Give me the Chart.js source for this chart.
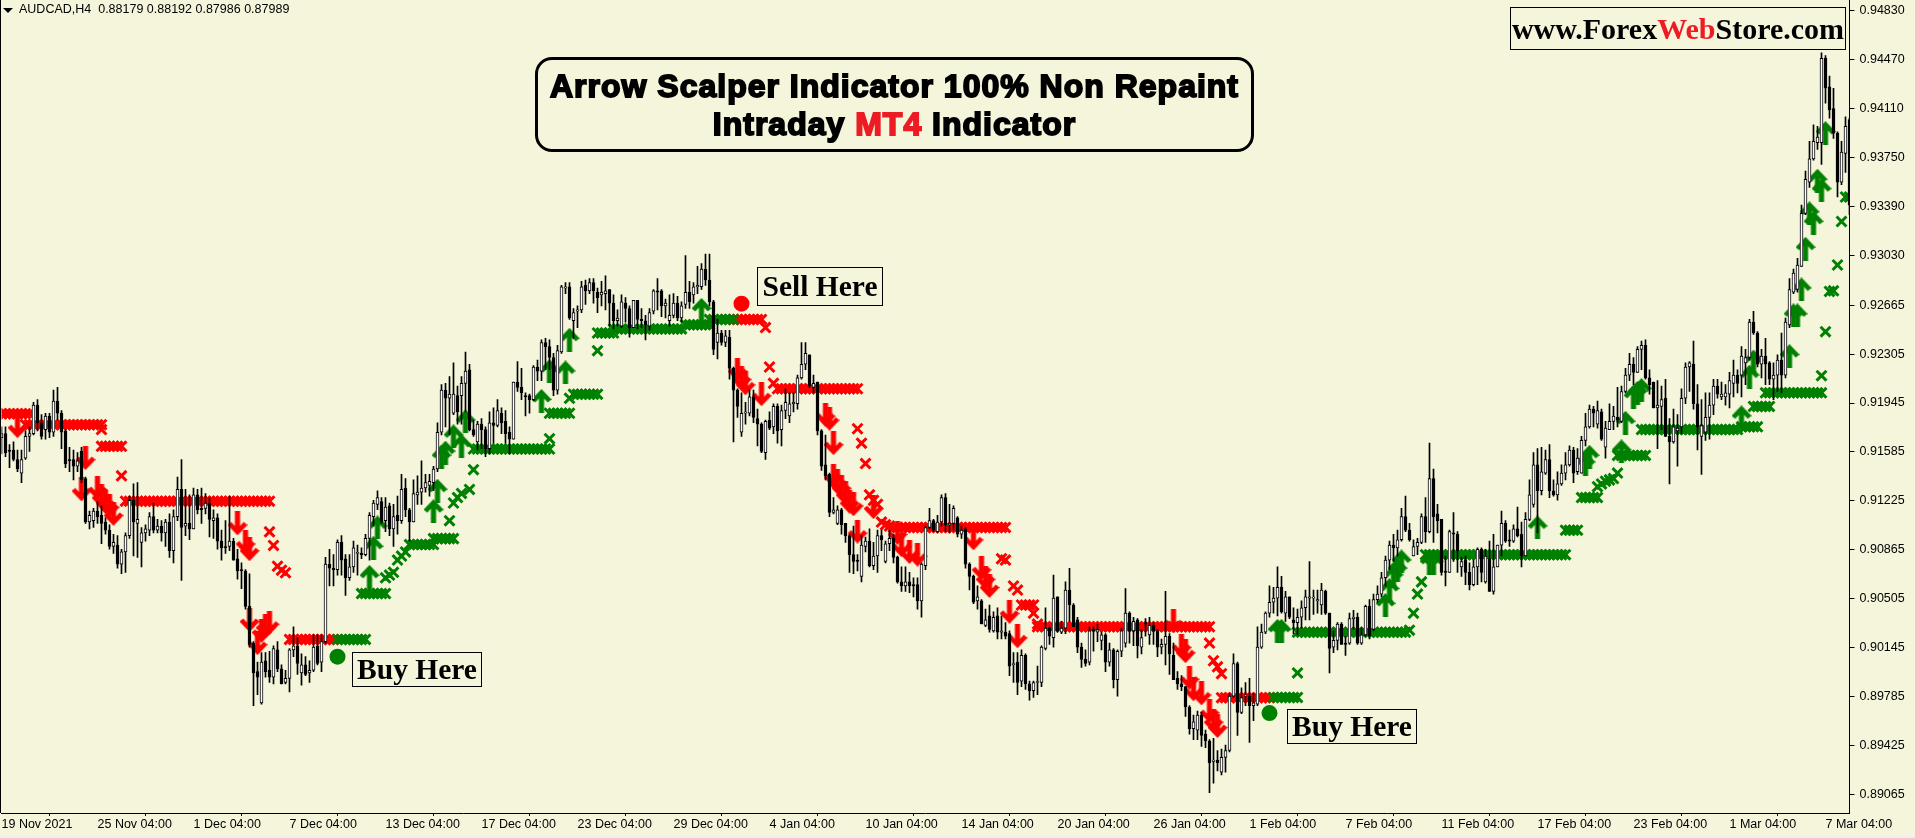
<!DOCTYPE html>
<html>
<head>
<meta charset="utf-8">
<title>AUDCAD,H4</title>
<script src="https://cdn.jsdelivr.net/npm/chart.js@4/dist/chart.umd.min.js"></script>
<style>
html, body { margin: 0; padding: 0; background: #F5F5DC; overflow: hidden; }
#wrap { position: relative; width: 1915px; height: 838px; background: #F5F5DC; }
#chart { position: absolute; left: 0; top: 0; }
#leftLine { position: absolute; left: 0; top: 0; width: 1px; height: 813px; background: #000; }
#bottomStrip { position: absolute; left: 0; top: 836px; width: 1915px; height: 2px; background: #f0f0f0; }
#arrowMark { position: absolute; left: 3px; top: 8px; width: 10px; height: 5px; background: #000; clip-path: polygon(0 0, 100% 0, 50% 100%); }
#header { position: absolute; left: 19px; top: 2px; font: 12.5px "Liberation Sans"; color: #000; white-space: pre; }
#title { position: absolute; left: 535px; top: 57px; width: 713px; height: 82px; border: 3px solid #000; border-radius: 17px;
  font: bold 32px/38px "Liberation Sans"; color: #000; text-align: center; -webkit-text-stroke: 1.8px #000; letter-spacing: 1px; padding-top: 7px; box-sizing: content-box; }
#title span { color: #ED1C24; -webkit-text-stroke: 1.8px #ED1C24; }
.box { position: absolute; border: 1px solid #000; box-sizing: border-box; font: bold 29.5px "Liberation Serif"; color: #000; text-align: center; white-space: nowrap; }
.box span { color: #ED1C24; }
</style>
</head>
<body>
<div id="wrap">
  <canvas id="chart" width="1915" height="838"></canvas>
  <div id="leftLine"></div>
  <div id="bottomStrip"></div>
  <div id="arrowMark"></div>
  <div id="header">AUDCAD,H4  0.88179 0.88192 0.87986 0.87989</div>
  <div id="title">Arrow Scalper Indicator 100% Non Repaint<br>Intraday <span>MT4</span> Indicator</div>
  <div class="box" style="left:1510px;top:7px;width:336px;height:43px;line-height:41px;font-size:30px;">www.Forex<span>Web</span>Store.com</div>
  <div class="box" style="left:352px;top:652px;width:130px;height:35px;line-height:33px;">Buy Here</div>
  <div class="box" style="left:1287px;top:709px;width:130px;height:35px;line-height:33px;">Buy Here</div>
  <div class="box" style="left:757px;top:267px;width:126px;height:39px;line-height:37px;">Sell Here</div>
</div>
<script>
const xTickBars = [0,24,48,72,96,120,144,168,192,216,240,264,288,312,336,360,384,408,432,456]
const xTickLabels = ['19 Nov 2021','25 Nov 04:00','1 Dec 04:00','7 Dec 04:00','13 Dec 04:00','17 Dec 04:00','23 Dec 04:00','29 Dec 04:00','4 Jan 04:00','10 Jan 04:00','14 Jan 04:00','20 Jan 04:00','26 Jan 04:00','1 Feb 04:00','7 Feb 04:00','11 Feb 04:00','17 Feb 04:00','23 Feb 04:00','1 Mar 04:00','7 Mar 04:00']
const yTicks = [.9483,.9447,.9411,.9375,.9339,.9303,.92665,.92305,.91945,.91585,.91225,.90865,.90505,.90145,.89785,.89425,.89065]

const opens = [
.9169,.9172,.9160,.9160,.9153,.9143,.9154,.9170,.9172,.9193,.9180,.9175,.9185,.9173,.9196,.9187,.9174,.9153,.9153,.9148,
.9159,.9139,.9107,.9108,.9115,.9112,.9107,.9101,.9089,.9090,.9076,.9085,.9097,.9123,.9106,.9092,.9099,.9101,.9111,.9101,
.9104,.9099,.9107,.9086,.9111,.9131,.9104,.9106,.9102,.9127,.9117,.9117,.9121,.9108,.9110,.9093,.9089,.9089,.9093,.9080,
.9072,.9071,.9045,.9018,.8997,.8974,.9005,.8998,.8993,.9013,.8999,.8989,.8992,.9013,.9016,.8996,.9002,.8996,.8998,.9016,
.9004,.9019,.9076,.9073,.9072,.9092,.9080,.9066,.9074,.9084,.9084,.9083,.9095,.9111,.9120,.9122,.9108,.9119,.9102,.9112,
.9108,.9132,.9116,.9107,.9127,.9129,.9132,.9134,.9136,.9146,.9173,.9204,.9198,.9187,.9200,.9200,.9209,.9219,.9175,.9166,
.9179,.9175,.9161,.9180,.9178,.9187,.9181,.9173,.9168,.9210,.9206,.9200,.9200,.9197,.9221,.9218,.9239,.9236,.9228,.9204,
.9232,.9279,.9280,.9255,.9262,.9263,.9281,.9277,.9283,.9276,.9274,.9275,.9278,.9268,.9255,.9251,.9268,.9264,.9250,.9270,
.9256,.9255,.9251,.9262,.9277,.9277,.9266,.9255,.9259,.9268,.9257,.9267,.9276,.9274,.9280,.9280,.9293,.9285,.9269,.9239,
.9246,.9239,.9243,.9220,.9204,.9173,.9187,.9187,.9199,.9183,.9179,.9158,.9182,.9177,.9192,.9175,.9189,.9185,.9194,.9194,
.9213,.9223,.9230,.9206,.9210,.9174,.9149,.9142,.9114,.9106,.9116,.9106,.9097,.9083,.9079,.9067,.9089,.9093,.9075,.9082,
.9097,.9078,.9091,.9095,.9081,.9063,.9060,.9063,.9061,.9061,.9049,.9075,.9103,.9108,.9100,.9107,.9125,.9105,.9106,.9110,
.9098,.9102,.9076,.9067,.9049,.9049,.9031,.9038,.9027,.9038,.9026,.9026,.9025,.9002,.9004,.8990,.9009,.8988,.8983,.8989,
.8989,.9014,.9029,.9022,.9052,.9026,.9029,.9057,.9046,.9035,.9015,.9006,.9004,.9028,.9026,.9020,.9024,.9004,.9013,.8991,
.9012,.9018,.9040,.9027,.9035,.9015,.9033,.9024,.9031,.9027,.9015,.9017,.9023,.9009,.8992,.8988,.8986,.8971,.8955,.8954,
.8965,.8951,.8946,.8931,.8932,.8923,.8934,.8939,.8979,.9003,.8967,.8979,.8979,.8972,.8973,.9015,.9026,.9040,.9048,.9051,
.9059,.9040,.9052,.9035,.9033,.9037,.9044,.9051,.9051,.9049,.9046,.9056,.9040,.9015,.9020,.9032,.9018,.9018,.9036,.9037,
.9018,.9024,.9045,.9028,.9050,.9054,.9066,.9079,.9090,.9088,.9094,.9111,.9101,.9082,.9089,.9092,.9111,.9100,.9139,.9113,
.9109,.9071,.9070,.9099,.9098,.9074,.9079,.9070,.9061,.9074,.9087,.9063,.9080,.9056,.9074,.9090,.9106,.9094,.9093,.9102,
.9098,.9082,.9109,.9120,.9149,.9130,.9143,.9153,.9130,.9127,.9135,.9143,.9149,.9160,.9144,.9143,.9167,.9177,.9190,.9179,
.9188,.9162,.9175,.9181,.9184,.9181,.9203,.9215,.9223,.9217,.9234,.9237,.9213,.9210,.9191,.9192,.9198,.9170,.9166,.9174,
.9177,.9198,.9221,.9223,.9194,.9170,.9173,.9184,.9193,.9207,.9199,.9199,.9201,.9209,.9215,.9215,.9224,.9228,.9254,.9246,
.9223,.9229,.9224,.9212,.9215,.9226,.9215,.9252,.9276,.9278,.9295,.9334,.9357,.9374,.9386,.9386,.9448,.9427,.9411,.9393,
.9357,.9378,.9403]

const highs = [
.9177,.9177,.9164,.9166,.9160,.9160,.9174,.9177,.9195,.9197,.9186,.9187,.9187,.9204,.9206,.9189,.9175,.9162,.9160,.9158,
.9162,.9140,.9115,.9117,.9122,.9119,.9110,.9105,.9098,.9097,.9087,.9099,.9126,.9135,.9136,.9103,.9105,.9114,.9121,.9109,
.9108,.9109,.9113,.9116,.9140,.9153,.9131,.9127,.9132,.9131,.9132,.9128,.9125,.9116,.9113,.9101,.9108,.9126,.9095,.9087,
.9077,.9072,.9069,.9019,.9004,.9011,.9011,.9012,.9016,.9019,.9002,.8998,.9014,.9030,.9022,.9010,.9008,.9005,.9024,.9024,
.9024,.9081,.9087,.9083,.9094,.9097,.9083,.9083,.9093,.9090,.9088,.9098,.9114,.9123,.9130,.9125,.9125,.9121,.9120,.9126,
.9142,.9139,.9117,.9138,.9141,.9152,.9142,.9142,.9148,.9180,.9208,.9209,.9214,.9224,.9207,.9214,.9232,.9223,.9182,.9181,
.9183,.9177,.9188,.9191,.9197,.9191,.9189,.9177,.9210,.9225,.9220,.9202,.9201,.9222,.9226,.9241,.9242,.9241,.9231,.9237,
.9281,.9283,.9283,.9264,.9266,.9284,.9285,.9286,.9286,.9279,.9284,.9288,.9278,.9274,.9263,.9274,.9272,.9266,.9270,.9270,
.9264,.9259,.9264,.9278,.9286,.9278,.9271,.9274,.9275,.9273,.9269,.9303,.9284,.9283,.9295,.9297,.9304,.9304,.9270,.9256,
.9248,.9248,.9248,.9221,.9205,.9202,.9195,.9204,.9204,.9190,.9180,.9182,.9188,.9194,.9194,.9193,.9205,.9202,.9202,.9215,
.9239,.9239,.9230,.9215,.9210,.9175,.9171,.9143,.9125,.9119,.9117,.9106,.9098,.9104,.9083,.9097,.9096,.9102,.9092,.9101,
.9101,.9093,.9101,.9098,.9082,.9074,.9074,.9070,.9066,.9066,.9077,.9104,.9117,.9109,.9112,.9127,.9128,.9120,.9119,.9111,
.9104,.9103,.9077,.9068,.9060,.9050,.9043,.9046,.9041,.9044,.9038,.9033,.9027,.9011,.9011,.9013,.9010,.8990,.8990,.9001,
.9016,.9044,.9030,.9068,.9052,.9034,.9063,.9073,.9047,.9037,.9018,.9013,.9030,.9030,.9032,.9026,.9025,.9018,.9014,.9013,
.9029,.9058,.9041,.9037,.9036,.9028,.9036,.9037,.9033,.9028,.9021,.9056,.9025,.9018,.8997,.8994,.8986,.8972,.8965,.8968,
.8967,.8954,.8947,.8948,.8939,.8940,.8943,.8981,.9010,.9004,.8985,.8989,.8992,.8981,.9030,.9032,.9041,.9060,.9059,.9074,
.9067,.9056,.9052,.9044,.9043,.9049,.9057,.9078,.9057,.9057,.9062,.9057,.9040,.9027,.9033,.9033,.9023,.9040,.9042,.9040,
.9029,.9046,.9050,.9054,.9060,.9070,.9082,.9093,.9098,.9101,.9117,.9126,.9106,.9094,.9095,.9113,.9125,.9165,.9146,.9120,
.9109,.9082,.9101,.9114,.9100,.9081,.9082,.9077,.9079,.9088,.9088,.9087,.9093,.9098,.9090,.9115,.9108,.9101,.9105,.9118,
.9107,.9114,.9138,.9158,.9161,.9162,.9160,.9164,.9138,.9144,.9149,.9158,.9163,.9162,.9161,.9170,.9187,.9193,.9192,.9196,
.9190,.9181,.9194,.9192,.9206,.9207,.9220,.9231,.9228,.9236,.9240,.9241,.9219,.9210,.9211,.9207,.9212,.9183,.9190,.9186,
.9205,.9224,.9225,.9240,.9208,.9197,.9202,.9202,.9212,.9212,.9210,.9208,.9217,.9226,.9219,.9236,.9234,.9256,.9262,.9247,
.9234,.9242,.9225,.9224,.9230,.9246,.9257,.9286,.9293,.9301,.9340,.9365,.9387,.9399,.9398,.9452,.9450,.9435,.9426,.9394,
.9387,.9405,.9404]

const lows = [
.9157,.9155,.9147,.9152,.9144,.9136,.9153,.9159,.9171,.9174,.9168,.9168,.9169,.9170,.9182,.9161,.9147,.9144,.9138,.9144,
.9136,.9106,.9102,.9103,.9106,.9091,.9098,.9087,.9084,.9073,.9069,.9070,.9095,.9082,.9081,.9074,.9093,.9097,.9099,.9099,
.9093,.9089,.9081,.9077,.9108,.9064,.9097,.9094,.9102,.9113,.9106,.9113,.9096,.9095,.9087,.9079,.9084,.9086,.9079,.9065,
.9058,.9043,.9015,.8972,.8980,.8973,.8993,.8989,.8988,.8997,.8988,.8988,.8982,.9008,.8995,.8987,.8994,.8989,.8997,.9002,
.8997,.9018,.9060,.9060,.9068,.9068,.9053,.9064,.9070,.9068,.9080,.9082,.9079,.9104,.9116,.9106,.9100,.9097,.9089,.9098,
.9106,.9111,.9093,.9107,.9120,.9120,.9129,.9126,.9130,.9144,.9171,.9177,.9171,.9186,.9179,.9179,.9188,.9174,.9170,.9160,
.9161,.9155,.9157,.9165,.9177,.9172,.9165,.9157,.9168,.9203,.9197,.9185,.9187,.9196,.9211,.9211,.9219,.9219,.9200,.9201,
.9231,.9275,.9256,.9242,.9250,.9261,.9267,.9275,.9268,.9261,.9266,.9263,.9251,.9249,.9251,.9250,.9254,.9243,.9250,.9249,
.9250,.9241,.9248,.9260,.9263,.9258,.9257,.9251,.9257,.9255,.9254,.9264,.9264,.9268,.9275,.9278,.9281,.9266,.9230,.9227,
.9237,.9236,.9212,.9166,.9184,.9170,.9179,.9185,.9180,.9163,.9158,.9153,.9175,.9172,.9165,.9163,.9183,.9180,.9188,.9190,
.9212,.9219,.9206,.9202,.9171,.9145,.9138,.9111,.9113,.9105,.9098,.9092,.9070,.9069,.9071,.9063,.9085,.9074,.9072,.9070,
.9086,.9077,.9086,.9077,.9062,.9056,.9056,.9055,.9052,.9043,.9037,.9072,.9102,.9100,.9099,.9104,.9100,.9099,.9101,.9096,
.9095,.9073,.9057,.9047,.9043,.9032,.9030,.9026,.9026,.9021,.9021,.9021,.8994,.8989,.8980,.8986,.8984,.8976,.8978,.8980,
.8986,.9013,.9017,.9015,.9026,.9025,.9025,.9034,.9030,.9011,.9000,.9001,.9002,.9012,.9019,.9013,.8997,.9001,.8985,.8979,
.9008,.9015,.9018,.9016,.9007,.9010,.9023,.9017,.9017,.9008,.9010,.9002,.8995,.8991,.8984,.8983,.8964,.8951,.8947,.8947,
.8942,.8941,.8908,.8915,.8924,.8921,.8923,.8938,.8978,.8950,.8966,.8972,.8945,.8961,.8972,.9014,.9025,.9037,.9040,.9038,
.9040,.9034,.9036,.9025,.9024,.9029,.9035,.9035,.9039,.9040,.9039,.9039,.8996,.9011,.9013,.9017,.9009,.9017,.9028,.9017,
.9017,.9023,.9021,.9027,.9048,.9052,.9060,.9072,.9078,.9082,.9093,.9100,.9093,.9082,.9083,.9091,.9092,.9099,.9092,.9099,
.9068,.9060,.9070,.9078,.9070,.9067,.9061,.9057,.9060,.9061,.9063,.9062,.9056,.9054,.9074,.9082,.9092,.9089,.9092,.9096,
.9074,.9082,.9108,.9118,.9099,.9127,.9142,.9125,.9126,.9123,.9134,.9138,.9148,.9136,.9142,.9143,.9163,.9176,.9177,.9176,
.9167,.9154,.9175,.9175,.9177,.9180,.9202,.9211,.9208,.9217,.9219,.9212,.9201,.9191,.9161,.9175,.9170,.9135,.9165,.9148,
.9172,.9194,.9203,.9190,.9160,.9142,.9167,.9168,.9186,.9198,.9197,.9193,.9191,.9199,.9202,.9199,.9208,.9226,.9245,.9221,
.9213,.9208,.9208,.9197,.9203,.9202,.9213,.9250,.9275,.9276,.9295,.9333,.9353,.9373,.9381,.9370,.9415,.9404,.9389,.9346,
.9355,.9364,.9333]

const closes = [
.9172,.9158,.9159,.9153,.9146,.9153,.9170,.9172,.9193,.9180,.9170,.9185,.9173,.9196,.9187,.9173,.9150,.9152,.9148,.9152,
.9138,.9107,.9112,.9115,.9111,.9106,.9101,.9089,.9092,.9076,.9085,.9097,.9123,.9107,.9109,.9099,.9102,.9111,.9101,.9104,
.9099,.9107,.9086,.9111,.9131,.9103,.9106,.9102,.9127,.9116,.9116,.9121,.9109,.9110,.9093,.9088,.9088,.9093,.9079,.9071,
.9071,.9045,.9017,.8996,.8993,.9004,.8997,.8993,.9014,.8999,.8988,.8992,.9013,.9016,.9003,.9002,.8995,.8998,.9015,.9003,
.9019,.9076,.9073,.9072,.9092,.9079,.9066,.9074,.9088,.9084,.9083,.9095,.9112,.9121,.9125,.9107,.9118,.9102,.9111,.9108,
.9131,.9116,.9107,.9128,.9129,.9132,.9136,.9137,.9146,.9173,.9204,.9198,.9201,.9201,.9188,.9209,.9218,.9175,.9171,.9179,
.9175,.9161,.9180,.9178,.9189,.9180,.9172,.9168,.9210,.9206,.9202,.9199,.9197,.9221,.9218,.9239,.9236,.9228,.9204,.9233,
.9280,.9280,.9257,.9261,.9263,.9280,.9277,.9283,.9277,.9272,.9276,.9277,.9268,.9255,.9257,.9269,.9264,.9250,.9270,.9256,
.9255,.9252,.9261,.9277,.9276,.9266,.9268,.9259,.9268,.9257,.9266,.9276,.9269,.9280,.9281,.9293,.9285,.9269,.9234,.9246,
.9239,.9244,.9220,.9204,.9192,.9187,.9188,.9199,.9184,.9179,.9159,.9181,.9176,.9192,.9174,.9189,.9195,.9194,.9195,.9213,
.9223,.9231,.9207,.9209,.9174,.9148,.9141,.9114,.9116,.9116,.9105,.9097,.9083,.9078,.9078,.9090,.9093,.9075,.9082,.9097,
.9094,.9091,.9095,.9081,.9063,.9060,.9063,.9060,.9060,.9049,.9076,.9103,.9108,.9101,.9107,.9125,.9105,.9106,.9117,.9098,
.9101,.9076,.9067,.9048,.9052,.9032,.9035,.9028,.9037,.9026,.9027,.9023,.9001,.9003,.8989,.9009,.8988,.8983,.8989,.8989,
.9015,.9029,.9023,.9051,.9027,.9029,.9057,.9046,.9030,.9015,.9006,.9003,.9027,.9027,.9028,.9024,.9004,.9013,.8991,.9012,
.9027,.9040,.9027,.9034,.9016,.9022,.9032,.9031,.9027,.9015,.9017,.9023,.9010,.8991,.8988,.8986,.8971,.8955,.8960,.8965,
.8950,.8946,.8930,.8932,.8930,.8934,.8939,.8979,.9003,.8967,.8978,.8979,.8972,.8974,.9015,.9026,.9040,.9048,.9051,.9059,
.9041,.9052,.9037,.9033,.9037,.9044,.9052,.9052,.9051,.9050,.9057,.9040,.9014,.9020,.9032,.9017,.9017,.9036,.9037,.9018,
.9024,.9045,.9023,.9050,.9054,.9066,.9079,.9090,.9088,.9094,.9111,.9101,.9094,.9089,.9092,.9111,.9100,.9139,.9111,.9108,
.9070,.9070,.9100,.9098,.9086,.9078,.9070,.9061,.9074,.9087,.9070,.9082,.9056,.9074,.9090,.9106,.9093,.9093,.9102,.9097,
.9082,.9109,.9127,.9149,.9130,.9144,.9153,.9130,.9127,.9135,.9143,.9149,.9160,.9143,.9154,.9167,.9177,.9190,.9187,.9189,
.9168,.9176,.9181,.9185,.9182,.9203,.9215,.9223,.9217,.9234,.9237,.9213,.9208,.9191,.9193,.9197,.9170,.9166,.9177,.9176,
.9198,.9221,.9224,.9194,.9177,.9178,.9184,.9193,.9207,.9201,.9201,.9202,.9211,.9215,.9209,.9229,.9228,.9254,.9246,.9223,
.9229,.9223,.9212,.9215,.9226,.9215,.9254,.9278,.9290,.9296,.9334,.9359,.9374,.9387,.9390,.9448,.9426,.9410,.9393,.9357,
.9379,.9398,.9340]

// stop levels: [first bar, last bar, price]
const redStops = [[0,7,.91867],[6,25,.91786],[25,25,.9175],[25,30,.91627],[30,30,.9141],[31,67,.91223],[67,67,.90998],[68,68,.90898],[69,69,.90745],[70,70,.90716],[71,71,.90697],[72,83,.90207],
[183,190,.9256],[191,191,.925],[192,192,.9221],[193,193,.9209],[194,214,.9205],[214,214,.91756],[215,215,.9165],[216,216,.915],[217,217,.9127],[218,218,.9123],[219,219,.912],[220,220,.9107],[221,221,.9105],[222,222,.9104],[223,251,.9103],[250,250,.908],[251,251,.9079],[253,253,.906],[254,254,.9057],[255,258,.9046],[258,258,.904],[259,259,.9032],[259,302,.903],[302,302,.9018],[303,303,.9005],[304,304,.90005],[305,305,.89955],[305,317,.89778]]

const greenStops = [[84,91,.90207],[90,96,.90544],[96,96,.9066],[97,97,.9068],[98,98,.907],[99,99,.9079],[100,100,.9082],[101,101,.9085],[102,108,.90904],[108,113,.90948],[112,112,.9108],[113,113,.9121],[114,114,.9125],[115,115,.9128],[117,117,.9131],[118,118,.91455],[118,137,.91607],[137,137,.91683],[137,142,.9187],[142,142,.9198],[143,149,.9201],[149,149,.9233],[149,153,.9246],[153,170,.9249],[171,177,.9252],[177,183,.9256],
[318,324,.8978],[324,324,.8996],[324,351,.9026],[352,352,.90275],[353,353,.904],[354,354,.9054],[355,355,.9063],[356,391,.9083],[391,394,.9101],[395,399,.9125],[399,399,.9133],[400,400,.9135],[401,401,.9137],[402,402,.9138],[403,403,.9139],[404,404,.9143],[404,411,.9156],[410,434,.9175],[435,439,.9177],[438,442,.9192],[441,455,.9202],[455,455,.92146],[456,456,.9247],[457,457,.92766],[458,458,.9277],[459,459,.9296],[460,460,.9328],[461,462,.9346]]

const upBars = [92,93,94,108,109,110,111,113,115,116,135,137,141,142,175,319,320,346,347,348,349,350,357,358,384,396,397,405,406,408,409,410,435,437,438,447,448,449,450,451,452,453,454,455,456]
const upPrices = [.90667,.9088,.9103,.9115,.913,.9155,.9158,.917,.9163,.9181,.9196,.9218,.9217,.9241,.9263,.9027,.9027,.9046,.9057,.9067,.9072,.9078,.9077,.9077,.9103,.915,.9155,.9159,.918,.9199,.9202,.9204,.9184,.9214,.9225,.9229,.9259,.9259,.9278,.9308,.9334,.9327,.9358,.9351,.9393]

const downBars = [4,20,21,24,25,26,27,28,59,61,62,62,64,65,66,67,184,185,186,190,206,207,208,208,209,210,211,212,213,214,218,224,225,227,229,243,245,246,247,252,254,293,295,296,297,298,300,302,303,304]
const downPrices = [.91775,.9131,.9154,.9132,.9126,.9122,.9119,.9113,.9106,.9092,.9087,.9035,.9018,.9027,.90305,.9033,.9219,.9213,.9209,.9201,.9186,.9183,.9165,.9141,.9137,.9133,.9128,.9122,.912,.91,.9118,.9099,.909,.9085,.9083,.9095,.9073,.9066,.906,.9041,.9023,.9034,.9016,.9012,.89925,.8984,.8981,.8968,.8961,.8957]

const buyBars = [84,317]
const buyPrices = [.9008,.89665]
const sellBars = [185]
const sellPrices = [.92676]

const axisFont = {family: '"Liberation Sans"', size: 12.5}

function runsToPoints(runs){
    const points = []
    runs.forEach(function(run){
        for(let bar = run[0]; bar <= run[1]; bar++){
            points.push({x: bar, y: run[2]})
        }
    })
    return points
}

function zipPoints(bars, prices){
    return bars.map(function(bar, i){
        return {x: bar, y: prices[i]}
    })
}

// arrow glyph as a small canvas, pointing up or down
function makeArrow(color, up){
    const c = document.createElement('canvas')
    c.width = 20
    c.height = 24
    const g = c.getContext('2d')
    if(!up){
        g.translate(0, 24)
        g.scale(1, -1)
    }
    g.fillStyle = color
    g.beginPath()
    const shape = [[10,0],[20,10.5],[16.2,13.5],[12.6,9.5],[12.6,24],[7.4,24],[7.4,9.5],[3.8,13.5],[0,10.5]]
    shape.forEach(function(p, i){
        if(i === 0) g.moveTo(p[0], p[1])
        else g.lineTo(p[0], p[1])
    })
    g.closePath()
    g.fill()
    return c
}

// scales would otherwise reserve room for their outer labels
function noScalePadding(s){
    s.paddingLeft = 0
    s.paddingRight = 0
    s.paddingTop = 0
    s.paddingBottom = 0
}

const wicks = highs.map(function(h, i){ return {x: i, y: [lows[i], h]} })
const bodies = opens.map(function(o, i){ return {x: i, y: [o, closes[i]]} })

function markerSet(points, color, style, radius, width, order){
    return {
        type: 'line',
        data: points,
        showLine: false,
        order: order,
        pointStyle: style,
        pointRadius: radius,
        pointBorderWidth: width,
        pointBorderColor: color,
        pointBackgroundColor: color
    }
}

const config = {
    type: 'bar',
    data: {
        datasets: [
            {data: bodies, order: 1, grouped: false, barThickness: 3, borderWidth: 1, borderColor: '#000', borderSkipped: false, minBarLength: 1,
             backgroundColor: function(c){ return closes[c.dataIndex] >= opens[c.dataIndex] ? '#fff' : '#000' }},
            {data: wicks, order: 2, grouped: false, barThickness: 1, backgroundColor: '#000', borderWidth: 0},
            markerSet(zipPoints(upBars, upPrices), '#008000', makeArrow('#008000', true), 10, 0, 3),
            markerSet(zipPoints(downBars, downPrices), '#ff0000', makeArrow('#ff0000', false), 10, 0, 3),
            markerSet(runsToPoints(greenStops), '#008000', 'crossRot', 7, 3, 4),
            markerSet(runsToPoints(redStops), '#ff0000', 'crossRot', 7, 3, 4),
            markerSet(zipPoints(buyBars, buyPrices), '#008000', 'circle', 8, 0, 5),
            markerSet(zipPoints(sellBars, sellPrices), '#ff0000', 'circle', 8, 0, 5)
        ]
    },
    options: {
        responsive: false,
        animation: false,
        events: [],
        layout: {autoPadding: false, padding: {left: 1.5, top: 0, right: 0, bottom: 0}},
        plugins: {legend: {display: false}, tooltip: {enabled: false}, title: {display: false}},
        scales: {
            x: {
                type: 'linear',
                min: 0,
                max: 462,
                offset: false,
                border: {color: '#000', width: 1},
                grid: {drawOnChartArea: false, drawTicks: true, tickLength: 3, color: '#000'},
                afterBuildTicks: function(s){ s.ticks = xTickBars.map(function(v){ return {value: v} }) },
                afterFit: function(s){ s.height = 25; noScalePadding(s) },
                ticks: {
                    autoSkip: false, maxRotation: 0, minRotation: 0, align: 'start', padding: 1, color: '#000', font: axisFont,
                    callback: function(v, i){ return xTickLabels[i] }
                }
            },
            y: {
                position: 'right',
                min: .889304,
                max: .949087,
                border: {color: '#000', width: 1},
                grid: {drawOnChartArea: false, drawTicks: true, tickLength: 5, color: '#000'},
                afterBuildTicks: function(s){ s.ticks = yTicks.map(function(v){ return {value: v} }) },
                afterFit: function(s){ s.width = 65.5; noScalePadding(s) },
                ticks: {
                    autoSkip: false, padding: 5, color: '#000', font: axisFont,
                    callback: function(v){ return v.toFixed(5) }
                }
            }
        }
    }
}

const ctx = document.querySelector('#chart').getContext('2d')
let myChart = new Chart(ctx, config)
</script>
</body>
</html>
